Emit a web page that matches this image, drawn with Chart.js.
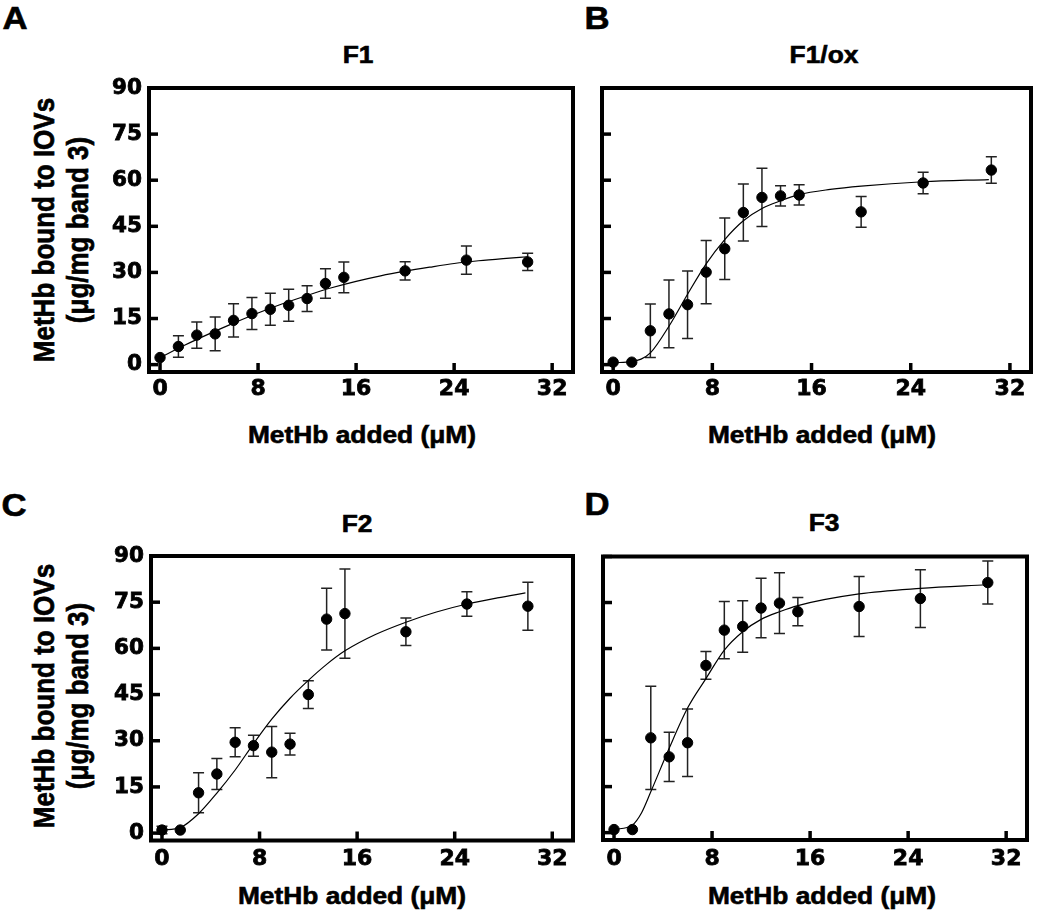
<!DOCTYPE html>
<html>
<head>
<meta charset="utf-8">
<script src="https://cdn.jsdelivr.net/npm/chart.js@4.4.1/dist/chart.umd.min.js"></script>
<style>
  body { margin: 0; background: #fff; width: 1050px; height: 915px; position: relative; overflow: hidden; }
  canvas { position: absolute; }
  .t {
    position: absolute; white-space: nowrap; line-height: 1; color: #000;
    font-family: "Liberation Sans", Arial, sans-serif; font-weight: bold;
    -webkit-text-stroke: 0.6px #000;
    transform: translate(-50%, -50%) scaleX(1.12);
  }
  .yl {
    position: absolute; white-space: nowrap; text-align: center; color: #000;
    font-family: "Liberation Sans", Arial, sans-serif; font-weight: bold;
    font-size: 26px; line-height: 29px;
    -webkit-text-stroke: 0.6px #000;
    transform: translate(-50%, -50%) rotate(-90deg) scaleY(1.17);
  }
</style>
</head>
<body>
<div class="t" style="left:15px;top:18px;font-size:31px">A</div>
<div class="t" style="left:597px;top:18px;font-size:31px">B</div>
<div class="t" style="left:14px;top:505px;font-size:31px">C</div>
<div class="t" style="left:597px;top:504px;font-size:31px">D</div>

<div class="t" style="left:358px;top:56px;font-size:23.5px">F1</div>
<div class="t" style="left:824px;top:56px;font-size:23.5px">F1/ox</div>
<div class="t" style="left:357px;top:525px;font-size:23.5px">F2</div>
<div class="t" style="left:824px;top:524px;font-size:23.5px">F3</div>

<div class="t" style="left:362px;top:436px;font-size:23.5px">MetHb added (μM)</div>
<div class="t" style="left:822px;top:436px;font-size:23.5px">MetHb added (μM)</div>
<div class="t" style="left:352px;top:897px;font-size:23.5px">MetHb added (μM)</div>
<div class="t" style="left:822px;top:897px;font-size:23.5px">MetHb added (μM)</div>

<div class="yl" style="left:61px;top:230px">MetHb bound to IOVs<br>(μg/mg band 3)</div>
<div class="yl" style="left:61px;top:696px">MetHb bound to IOVs<br>(μg/mg band 3)</div>

<canvas id="chartA" width="585" height="430" style="left:0;top:30px;width:585px;height:430px"></canvas>
<canvas id="chartB" width="465" height="430" style="left:585px;top:30px;width:465px;height:430px"></canvas>
<canvas id="chartC" width="585" height="435" style="left:0;top:480px;width:585px;height:435px"></canvas>
<canvas id="chartD" width="465" height="435" style="left:585px;top:480px;width:465px;height:435px"></canvas>

<script>
// axis ticks
const xTicks = [0, 8, 16, 24, 32];
const yTicks = [0, 15, 30, 45, 60, 75, 90];

// F1
const f1X   = [0, 1.5, 3, 4.5, 6, 7.5, 9, 10.5, 12, 13.5, 15, 20, 25, 30];
const f1Y   = [2.3, 5.9, 9.6, 10.0, 14.4, 16.6, 18.0, 19.3, 21.5, 26.4, 28.4, 30.5, 34.0, 33.4];
const f1Err = [0, 3.5, 4.3, 5.5, 5.4, 5.2, 5.2, 5.2, 4.2, 4.8, 5.0, 3.0, 4.6, 2.8];
const f1FitX = [0, 2, 4, 6, 8, 10, 12, 14, 16, 18, 20, 22, 24, 26, 28, 30];
const f1FitY = [2.3, 6.3, 10.0, 13.5, 16.8, 19.8, 22.5, 25.0, 27.1, 28.9, 30.4, 31.7, 32.9, 33.8, 34.5, 35.1];

// F1/ox
const f1oxX   = [0, 1.5, 3, 4.5, 6, 7.5, 9, 10.5, 12, 13.5, 15, 20, 25, 30.5];
const f1oxY   = [0.8, 0.8, 11.0, 16.5, 19.5, 30.1, 37.7, 49.5, 54.4, 54.9, 55.2, 49.7, 59.1, 63.3];
const f1oxErr = [0, 0, 8.7, 11.0, 11.0, 10.3, 10.0, 9.3, 9.5, 3.3, 3.3, 5.0, 3.5, 4.3];
const f1oxFitX = [0, 1.5, 2.25, 3, 4.5, 6, 7.5, 9, 10.5, 12, 13.5, 15, 17.5, 20, 25, 30.3];
const f1oxFitY = [0.6, 1.0, 1.8, 3.8, 12.5, 22.9, 32.8, 40.7, 46.8, 50.8, 53.3, 55.3, 57.0, 58.1, 59.5, 60.2];

// F2
const f2X   = [0, 1.5, 3, 4.5, 6, 7.5, 9, 10.5, 12, 13.5, 15, 20, 25, 30];
const f2Y   = [1.0, 1.0, 13.1, 19.2, 29.5, 28.4, 26.3, 28.9, 45.0, 69.5, 71.3, 65.4, 74.4, 73.7];
const f2Err = [1.2, 0, 6.5, 5.0, 4.7, 3.4, 8.3, 3.5, 4.5, 10.0, 14.5, 4.5, 4.0, 7.8];
const f2FitX = [0, 1.5, 3, 4.5, 6, 7.5, 9, 10.5, 12, 13.5, 15, 17.5, 20, 22.5, 25, 27.5, 29.8];
const f2FitY = [1.0, 1.8, 6.3, 13.0, 20.5, 29.0, 37.0, 43.8, 49.6, 54.8, 59.2, 64.5, 68.5, 71.8, 74.4, 76.4, 78.0];

// F3
const f3X   = [0, 1.5, 3, 4.5, 6, 7.5, 9, 10.5, 12, 13.5, 15, 20, 25, 30.5];
const f3Y   = [1.0, 1.0, 30.9, 24.7, 29.3, 54.5, 66.0, 67.2, 73.2, 74.8, 72.0, 73.7, 76.3, 81.5];
const f3Err = [0, 0, 16.8, 8.0, 11.0, 4.5, 9.3, 8.4, 9.7, 9.9, 4.6, 9.8, 9.4, 7.0];
const f3FitX = [0, 1.5, 2.25, 3, 4.5, 6, 7.5, 9, 10.5, 12, 13.5, 15, 20, 25, 30.4];
const f3FitY = [1.0, 2.5, 6.5, 13.3, 27.5, 40.6, 50.2, 59.5, 65.5, 69.5, 72.0, 74.0, 77.8, 79.6, 80.8];

const toPoints = (xs, ys) => xs.map((x, i) => ({ x, y: ys[i] }));

// error bars with caps, under the dots
const errorBars = {
  id: 'errorBars',
  beforeDatasetsDraw(chart) {
    const { ctx, scales: { x, y } } = chart;
    ctx.save();
    ctx.strokeStyle = '#222';
    ctx.lineWidth = 1.5;
    chart.data.datasets.forEach(ds => {
      if (!ds.errors) return;
      ds.data.forEach((p, i) => {
        const e = ds.errors[i];
        if (!e) return;
        const px = x.getPixelForValue(p.x);
        const top = y.getPixelForValue(p.y + e);
        const bot = y.getPixelForValue(p.y - e);
        ctx.beginPath();
        ctx.moveTo(px, top); ctx.lineTo(px, bot);
        ctx.moveTo(px - 5.5, top); ctx.lineTo(px + 5.5, top);
        ctx.moveTo(px - 5.5, bot); ctx.lineTo(px + 5.5, bot);
        ctx.stroke();
      });
    });
    ctx.restore();
  }
};

// heavy box frame with inward tick marks
const frameTicks = {
  id: 'frameTicks',
  afterDraw(chart) {
    const { ctx, chartArea: a, scales: { x, y } } = chart;
    ctx.save();
    ctx.strokeStyle = '#000';
    ctx.lineWidth = 3.5;
    x.ticks.forEach(t => {
      const px = x.getPixelForValue(t.value);
      ctx.beginPath(); ctx.moveTo(px, a.bottom); ctx.lineTo(px, a.bottom - 9); ctx.stroke();
    });
    y.ticks.forEach(t => {
      const py = y.getPixelForValue(t.value);
      ctx.beginPath(); ctx.moveTo(a.left, py); ctx.lineTo(a.left + 9, py); ctx.stroke();
    });
    ctx.lineWidth = 4;
    ctx.strokeRect(a.left, a.top, a.right - a.left, a.bottom - a.top);
    ctx.restore();
  }
};

function makePanel(id, pts, errs, fit, box) {
  return new Chart(document.getElementById(id), {
    type: 'scatter',
    data: {
      datasets: [
        {
          data: pts,
          errors: errs,
          backgroundColor: '#000',
          borderColor: '#000',
          pointRadius: 5.2,
          order: 0
        },
        {
          type: 'line',
          data: fit,
          borderColor: '#000',
          borderWidth: 1.2,
          pointRadius: 0,
          fill: false,
          cubicInterpolationMode: 'monotone',
          order: 1
        }
      ]
    },
    options: {
      responsive: false,
      animation: false,
      layout: { padding: { top: box.top, right: box.right, left: 0, bottom: 0 } },
      plugins: { legend: { display: false }, tooltip: { enabled: false } },
      scales: {
        x: {
          type: 'linear', min: -0.9, max: 33.7,
          afterBuildTicks: s => { s.ticks = xTicks.map(v => ({ value: v })); },
          afterFit: s => { s.height = box.xh; },
          grid: { display: false, drawTicks: false },
          border: { display: false },
          ticks: {
            color: '#000', padding: box.xpad, maxRotation: 0,
            textStrokeColor: '#000', textStrokeWidth: 0.8,
            font: { family: 'DejaVu Sans', weight: 'bold', size: 22 }
          }
        },
        y: {
          type: 'linear', min: -2.4, max: 90,
          afterBuildTicks: s => { s.ticks = yTicks.map(v => ({ value: v })); },
          afterFit: s => { s.width = box.yw; },
          grid: { display: false, drawTicks: false },
          border: { display: false },
          ticks: {
            display: box.labels, color: '#000', padding: 7,
            textStrokeColor: '#000', textStrokeWidth: 0.8,
            font: { family: 'DejaVu Sans', weight: 'bold', size: 21.5 }
          }
        }
      }
    },
    plugins: [errorBars, frameTicks]
  });
}

makePanel('chartA', toPoints(f1X, f1Y), f1Err, toPoints(f1FitX, f1FitY),
  { top: 58, right: 12, xh: 88, yw: 149, xpad: 4, labels: true });
makePanel('chartB', toPoints(f1oxX, f1oxY), f1oxErr, toPoints(f1oxFitX, f1oxFitY),
  { top: 58, right: 19, xh: 88, yw: 17, xpad: 4, labels: false });
makePanel('chartC', toPoints(f2X, f2Y), f2Err, toPoints(f2FitX, f2FitY),
  { top: 76, right: 12, xh: 74.5, yw: 151, xpad: 6, labels: true });
makePanel('chartD', toPoints(f3X, f3Y), f3Err, toPoints(f3FitX, f3FitY),
  { top: 76.5, right: 23, xh: 75, yw: 18, xpad: 6, labels: false });
</script>
</body>
</html>
